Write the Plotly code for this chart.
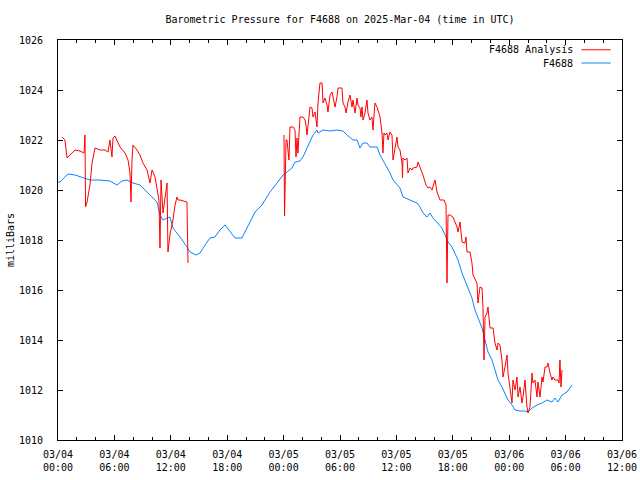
import pandas as pd
import plotly.graph_objects as go

BASE = pd.Timestamp("2025-03-04 00:00")

# F4688 observed (hours after 2025-03-04 00:00 UTC, millibars)
obs_hours = [0.00, 0.21, 0.74, 1.06, 1.81, 2.66, 3.40, 4.47, 5.53, 6.28, 6.81, 7.34, 7.98, 8.72,
             9.47, 10.00, 10.53, 10.85, 11.17, 11.60, 11.91, 12.23, 12.66, 12.98, 13.72, 14.04,
             14.68, 15.11, 15.64, 16.17, 16.70, 17.23, 17.77, 18.30, 18.83, 19.57, 20.11, 20.96,
             21.70, 22.55, 23.30, 23.94, 24.36, 24.89, 25.21, 25.74, 26.06, 26.49, 26.81, 27.13,
             27.55, 27.66, 28.19, 28.94, 29.68, 30.32, 30.74, 31.06, 31.38, 31.81, 32.13, 32.45,
             32.87, 33.19, 33.94, 34.26, 34.57, 35.00, 35.32, 35.64, 36.06, 36.38, 36.70, 37.45,
             38.19, 38.51, 38.83, 39.26, 39.57, 39.89, 40.32, 40.85, 41.17, 41.49, 41.91, 42.23,
             42.55, 42.98, 43.30, 43.62, 44.04, 44.36, 44.68, 45.11, 45.43, 45.74, 46.17, 46.49,
             46.81, 47.23, 47.55, 47.87, 48.30, 48.62, 49.15, 49.68, 50.00, 50.43, 50.96, 51.49,
             52.02, 52.55, 52.87, 53.19, 53.62, 54.15, 54.68]
obs_mbar = [1020.32, 1020.32, 1020.52, 1020.64, 1020.60, 1020.48, 1020.40, 1020.40, 1020.36, 1020.20,
            1020.36, 1020.40, 1020.28, 1020.20, 1019.92, 1019.76, 1019.52, 1019.00, 1018.80, 1018.88,
            1018.92, 1018.48, 1018.28, 1018.12, 1017.72, 1017.52, 1017.40, 1017.48, 1017.80, 1018.08,
            1018.12, 1018.40, 1018.60, 1018.32, 1018.08, 1018.08, 1018.48, 1019.12, 1019.40, 1019.92,
            1020.28, 1020.60, 1020.72, 1020.88, 1021.12, 1021.16, 1021.32, 1021.68, 1021.92, 1022.20,
            1022.40, 1022.28, 1022.40, 1022.36, 1022.40, 1022.36, 1022.20, 1022.08, 1022.00, 1022.00,
            1021.68, 1021.88, 1021.88, 1021.72, 1021.72, 1021.40, 1021.20, 1020.92, 1020.68, 1020.40,
            1020.20, 1020.08, 1019.72, 1019.60, 1019.48, 1019.32, 1019.08, 1018.92, 1019.08, 1018.88,
            1018.68, 1018.48, 1018.20, 1017.92, 1017.72, 1017.48, 1017.20, 1016.68, 1016.40, 1016.08,
            1015.68, 1015.20, 1014.88, 1014.48, 1014.00, 1013.52, 1013.20, 1012.80, 1012.40, 1012.12,
            1011.88, 1011.60, 1011.40, 1011.20, 1011.16, 1011.16, 1011.12, 1011.28, 1011.40, 1011.48,
            1011.60, 1011.52, 1011.68, 1011.52, 1011.80, 1011.92, 1012.20]

# F4688 Analysis, first segment
ana1_hours = [0.43, 0.53, 0.74, 0.96, 1.28, 1.81, 2.34, 2.55, 2.77, 2.87, 2.93, 3.09, 3.40, 3.62,
              3.94, 4.47, 5.00, 5.32, 5.53, 5.74, 5.85, 6.06, 6.60, 7.13, 7.45, 7.66, 7.77, 7.87,
              7.98, 8.40, 8.72, 9.04, 9.47, 9.79, 10.00, 10.32, 10.53, 10.74, 10.85, 10.96, 11.17,
              11.38, 11.60, 11.70, 11.91, 12.23, 12.45, 12.66, 12.77, 12.98, 13.51, 13.72, 13.83]
ana1_mbar = [1022.12, 1022.08, 1022.00, 1021.28, 1021.40, 1021.60, 1021.56, 1021.52, 1021.48, 1022.20,
             1019.32, 1019.52, 1020.20, 1021.08, 1021.68, 1021.60, 1021.60, 1021.52, 1022.00, 1021.32,
             1022.08, 1022.16, 1021.72, 1021.48, 1021.20, 1020.68, 1019.52, 1021.20, 1021.80, 1021.60,
             1021.40, 1021.08, 1020.80, 1020.28, 1020.80, 1020.52, 1020.00, 1019.60, 1017.68, 1020.40,
             1019.08, 1019.60, 1020.28, 1017.52, 1018.20, 1018.80, 1019.40, 1019.72, 1019.60, 1019.60,
             1019.56, 1019.52, 1017.08]

# F4688 Analysis, second segment
ana2_hours = [24.04, 24.10, 24.26, 24.36, 24.57, 24.68, 25.00, 25.21, 25.32, 25.43, 25.53, 25.74,
              26.06, 26.28, 26.38, 26.49, 26.70, 26.81, 27.02, 27.13, 27.34, 27.55, 27.66, 27.87,
              28.09, 28.19, 28.40, 28.62, 28.72, 28.94, 29.15, 29.26, 29.47, 29.68, 29.79, 30.21,
              30.32, 30.53, 30.64, 30.85, 31.06, 31.28, 31.38, 31.60, 31.81, 31.91, 32.13, 32.23,
              32.34, 32.45, 32.66, 32.87, 32.98, 33.19, 33.40, 33.51, 33.72, 33.94, 34.04, 34.26,
              34.47, 34.57, 34.68, 34.79, 35.00, 35.11, 35.32, 35.53, 35.64, 35.85, 36.06, 36.17,
              36.38, 36.60, 36.65, 36.70, 36.91, 37.13, 37.23, 37.45, 37.66, 37.77, 38.19, 38.30,
              38.51, 38.83, 39.15, 39.36, 39.57, 39.79, 40.11, 40.32, 40.64, 41.06, 41.28, 41.38,
              41.49, 41.70, 42.02, 42.45, 42.55, 42.77, 42.98, 43.30, 43.40, 43.51, 43.83, 44.04,
              44.15, 44.57, 44.68, 44.89, 45.11, 45.21, 45.32, 45.43, 45.64, 45.74, 45.96, 46.28,
              46.49, 46.70, 46.81, 47.02, 47.23, 47.34, 47.55, 47.77, 47.87, 48.09, 48.30, 48.40,
              48.62, 48.83, 48.94, 49.15, 49.36, 49.47, 49.68, 49.89, 50.00, 50.21, 50.43, 50.53,
              50.74, 50.96, 51.06, 51.28, 51.49, 51.60, 51.81, 52.02, 52.13, 52.34, 52.55, 52.66,
              52.87, 53.19, 53.30, 53.40, 53.51, 53.62]
ana2_mbar = [1022.20, 1018.96, 1022.00, 1022.00, 1021.20, 1022.52, 1022.52, 1022.40, 1021.32, 1022.08,
             1021.48, 1022.92, 1022.92, 1022.80, 1022.60, 1022.20, 1022.92, 1023.32, 1023.28, 1022.92,
             1023.12, 1022.52, 1023.48, 1024.28, 1024.28, 1023.48, 1023.68, 1023.40, 1023.12, 1023.80,
             1023.92, 1023.68, 1023.32, 1023.72, 1024.08, 1024.08, 1023.48, 1023.32, 1023.08, 1023.52,
             1023.80, 1023.32, 1023.60, 1023.08, 1023.68, 1023.40, 1023.28, 1022.92, 1023.32, 1022.80,
             1023.08, 1023.60, 1023.08, 1022.80, 1022.92, 1022.40, 1023.48, 1023.32, 1023.20, 1022.92,
             1022.28, 1021.48, 1022.28, 1022.20, 1022.28, 1022.00, 1022.32, 1022.20, 1021.20, 1021.72,
             1022.12, 1021.72, 1021.60, 1021.08, 1020.48, 1021.28, 1021.20, 1021.28, 1020.68, 1020.88,
             1020.80, 1020.88, 1020.92, 1021.12, 1020.92, 1020.60, 1020.20, 1020.08, 1020.12, 1020.00,
             1020.40, 1019.92, 1019.60, 1019.60, 1019.40, 1016.28, 1019.00, 1019.00, 1018.92, 1018.52,
             1018.32, 1018.72, 1017.92, 1017.88, 1018.12, 1017.52, 1017.52, 1017.08, 1016.60, 1016.28,
             1015.48, 1016.12, 1016.08, 1015.32, 1013.20, 1014.92, 1015.08, 1015.32, 1014.48, 1014.48,
             1013.88, 1013.60, 1013.88, 1013.80, 1013.20, 1012.52, 1012.92, 1013.40, 1012.68, 1012.08,
             1011.48, 1012.40, 1012.00, 1012.52, 1011.72, 1012.12, 1011.48, 1011.72, 1012.40, 1011.32,
             1011.08, 1011.32, 1012.68, 1012.28, 1012.40, 1011.72, 1012.32, 1011.72, 1012.52, 1012.32,
             1012.92, 1012.92, 1013.08, 1012.68, 1012.40, 1012.52, 1012.40, 1012.40, 1012.28, 1013.20,
             1012.12, 1012.80]

tick_hours = [0, 6, 12, 18, 24, 30, 36, 42, 48, 54, 60]
tick_labels = ["03/04<br>00:00", "03/04<br>06:00", "03/04<br>12:00", "03/04<br>18:00",
               "03/05<br>00:00", "03/05<br>06:00", "03/05<br>12:00", "03/05<br>18:00",
               "03/06<br>00:00", "03/06<br>06:00", "03/06<br>12:00"]
y_ticks = [1010, 1012, 1014, 1016, 1018, 1020, 1022, 1024, 1026]

series_names = ["F4688 Analysis", "F4688"]
series_colors = ["#ff0000", "#0a84ff"]


def to_time(hours):
    return [BASE + pd.Timedelta(hours=h) for h in hours]


FONT = "DejaVu Sans Mono"
FS = 10

fig = go.Figure()
fig.add_trace(go.Scatter(
    x=to_time(obs_hours), y=obs_mbar, mode="lines", name=series_names[1],
    line=dict(color=series_colors[1], width=1), showlegend=False))
ana_x = to_time(ana1_hours) + [None] + to_time(ana2_hours)
ana_y = ana1_mbar + [None] + ana2_mbar
fig.add_trace(go.Scatter(
    x=ana_x, y=ana_y, mode="lines", name=series_names[0], connectgaps=False,
    line=dict(color=series_colors[0], width=1), showlegend=False))

# gnuplot-style key (text right-aligned, sample line on the right)
key_y = [0.9755, 0.9425]
for name, color, ky in zip(series_names, series_colors, key_y):
    fig.add_annotation(x=0.9165, y=ky, xref="paper", yref="paper", text=name,
                       showarrow=False, xanchor="right", yanchor="middle",
                       font=dict(family=FONT, size=FS, color="black"))
    fig.add_shape(type="line", xref="paper", yref="paper", x0=0.928, x1=0.98,
                  y0=ky, y1=ky, line=dict(color=color, width=1))

# y-axis label
fig.add_annotation(x=-0.085, y=0.5, xref="paper", yref="paper", text="milliBars",
                   textangle=-90, showarrow=False, xanchor="center", yanchor="middle",
                   font=dict(family=FONT, size=FS, color="black"))

fig.update_layout(
    width=640, height=480,
    margin=dict(l=58, r=18, t=40, b=40),
    paper_bgcolor="white", plot_bgcolor="white",
    font=dict(family=FONT, size=FS, color="black"),
    title=dict(text="Barometric Pressure for F4688 on 2025-Mar-04 (time in UTC)",
               x=0.5, xref="paper", xanchor="center", y=1 - 19 / 480, yanchor="middle",
               font=dict(family=FONT, size=FS, color="black")),
)
fig.update_xaxes(
    type="date", automargin=False,
    range=[BASE, BASE + pd.Timedelta(hours=60)],
    tickvals=to_time(tick_hours), ticktext=tick_labels,
    ticks="inside", ticklen=5, tickcolor="black", tickwidth=1,
    minor=dict(ticks="inside", ticklen=3, tickcolor="black", dtick=2 * 3600 * 1000,
               tick0=BASE),
    showline=True, linecolor="black", linewidth=1, mirror="ticks",
    showgrid=False, zeroline=False, ticklabelstandoff=5,
    tickfont=dict(family=FONT, size=FS, color="black"),
)
fig.update_yaxes(
    range=[1010, 1026], tickvals=y_ticks, automargin=False,
    ticks="inside", ticklen=5, tickcolor="black", tickwidth=1,
    showline=True, linecolor="black", linewidth=1, mirror="ticks",
    showgrid=False, zeroline=False, ticklabelstandoff=12,
    tickfont=dict(family=FONT, size=FS, color="black"),
)

fig.write_html("out.html")
